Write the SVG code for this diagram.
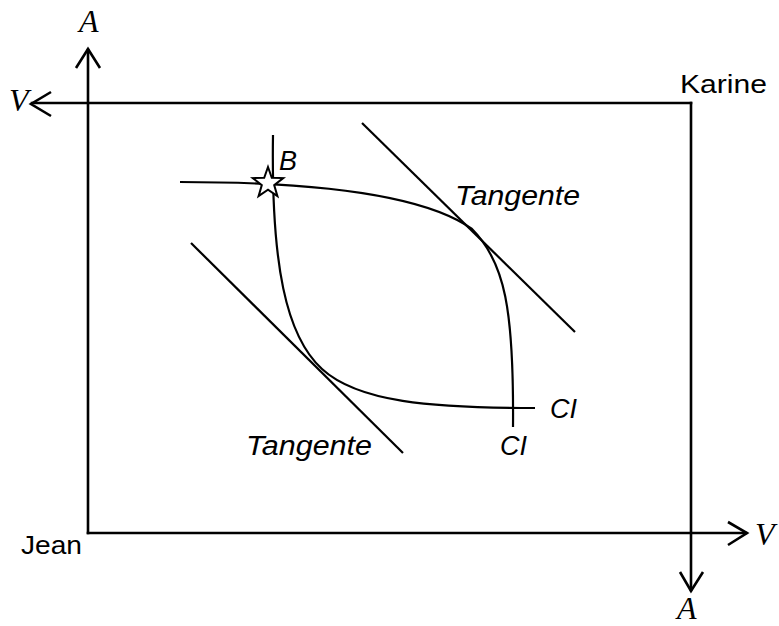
<svg xmlns="http://www.w3.org/2000/svg" width="779" height="626" viewBox="0 0 779 626">
<style>
.ax{fill:none;stroke:#000;stroke-width:2.6;stroke-linecap:square}
.arr{fill:none;stroke:#000;stroke-width:2.6;stroke-linejoin:miter}
.cv{fill:none;stroke:#000;stroke-width:2.2}
.ax-lbl{font-family:"Liberation Serif",serif;font-style:italic;font-size:32px;fill:#000}
.nm{font-family:"Liberation Sans",sans-serif;font-size:26px;fill:#000}
.lbl{font-family:"Liberation Sans",sans-serif;font-style:italic;font-size:27px;fill:#000}
</style>
<rect width="779" height="626" fill="#fff"/>
<g id="axes">
  <line class="ax" x1="88" y1="533" x2="88" y2="50"/>
  <polyline class="arr" points="76,68 88,49 100,68"/>
  <line class="ax" x1="88" y1="533" x2="746" y2="533"/>
  <polyline class="arr" points="728,522 747,533 728,545"/>
  <line class="ax" x1="691" y1="103" x2="32" y2="103"/>
  <polyline class="arr" points="51,92 31,104 51,116"/>
  <line class="ax" x1="691" y1="103" x2="691" y2="590"/>
  <polyline class="arr" points="680,572 691,591 703,572"/>
</g>
<g id="labels">
  <text class="ax-lbl" x="79" y="32">A</text>
  <text class="ax-lbl" x="9" y="111">V</text>
  <text class="ax-lbl" x="755" y="545">V</text>
  <text class="ax-lbl" x="677" y="619">A</text>
  <text class="nm" x="680" y="93" textLength="87" lengthAdjust="spacingAndGlyphs">Karine</text>
  <text class="nm" x="21" y="554" textLength="61" lengthAdjust="spacingAndGlyphs">Jean</text>
</g>
<g id="connectors">
  <path id="ci-jean" class="cv" d="M273,135 C271,265 286,336 322,369 C358,402 430,408 535,408"/>
  <path id="ci-karine" class="cv" d="M180,182 C300,182 420,192 472,229 C505,262 514,310 513,427"/>
  <line id="tangent-top" class="cv" x1="362" y1="123" x2="575" y2="332"/>
  <line id="tangent-bottom" class="cv" x1="191" y1="243" x2="403" y2="453"/>
</g>
<g id="point-B">
  <polygon points="268,167 271.8,177.8 283.2,178.1 274.2,185.1 277.4,196.1 268,189.6 258.6,196.1 261.8,185.1 252.8,178.1 264.2,177.8" fill="#fff" stroke="#000" stroke-width="2" stroke-linejoin="miter"/>
  <text class="lbl" x="279" y="170" font-size="24">B</text>
</g>
<g id="text-labels">
  <text class="lbl" x="455" y="205" textLength="125" lengthAdjust="spacingAndGlyphs">Tangente</text>
  <text class="lbl" x="246" y="455" textLength="126" lengthAdjust="spacingAndGlyphs">Tangente</text>
  <text class="lbl" x="550" y="418">CI</text>
  <text class="lbl" x="500" y="455">CI</text>
</g>
</svg>
